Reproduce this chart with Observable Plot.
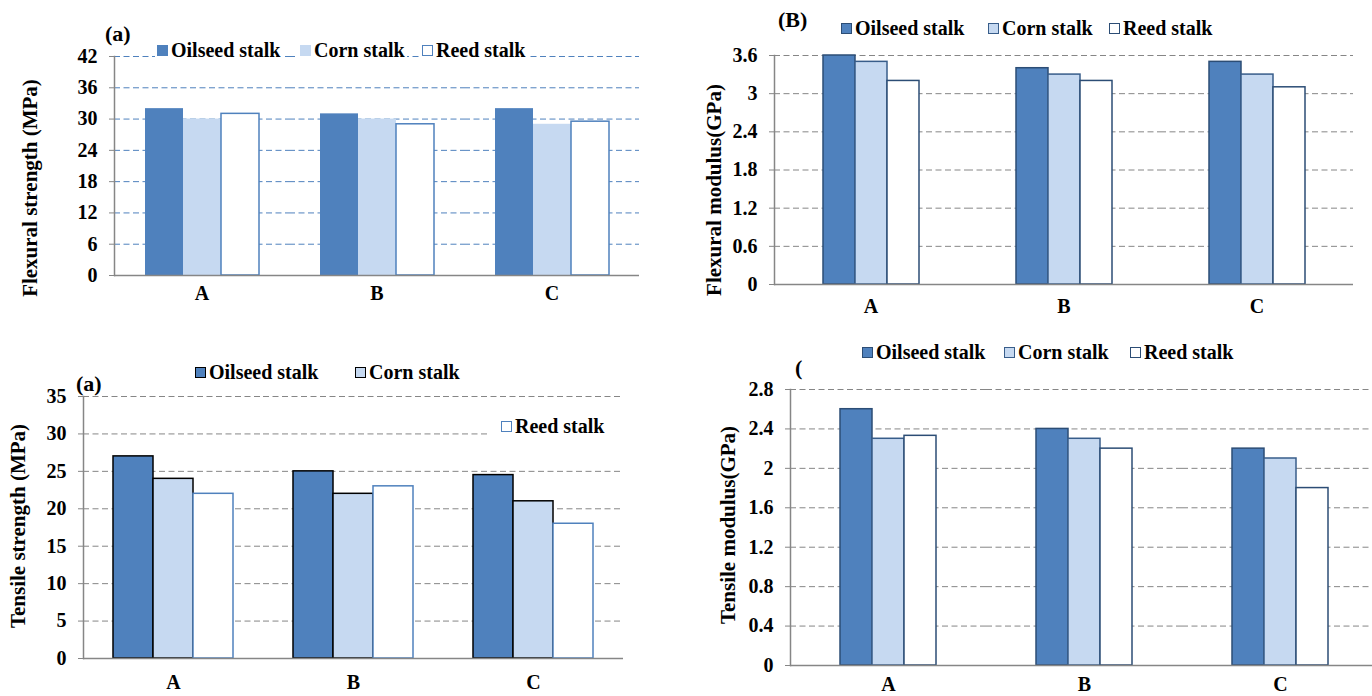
<!DOCTYPE html>
<html><head><meta charset="utf-8">
<script src="https://cdn.jsdelivr.net/npm/d3@7"></script>
<script src="https://cdn.jsdelivr.net/npm/@observablehq/plot@0.6"></script>
<style>
html,body{margin:0;padding:0;background:#fff;overflow:hidden;}
#root{position:relative;width:1372px;height:696px;overflow:hidden;background:#fff;font-family:"Liberation Serif","Times New Roman",serif;font-weight:bold;color:#000;}
.panel{position:absolute;}
.panel svg{max-width:none !important;}
.ytitle{position:absolute;white-space:nowrap;font-size:21px;line-height:22px;transform:translate(-50%,-50%) rotate(-90deg);}
.plabel{position:absolute;font-size:22px;line-height:24px;transform:translateY(-50%);}
.leg{position:absolute;font-size:20px;line-height:22px;white-space:nowrap;display:flex;align-items:center;transform:translateY(-50%);}
.sw{display:inline-block;width:11px;height:11px;margin-right:3px;box-sizing:border-box;}
</style></head><body><div id="root"></div>
<script>
// ---- data ----
const categories = ["A", "B", "C"];
const seriesNames = ["Oilseed stalk", "Corn stalk", "Reed stalk"];

const flexStrengthOilseed = [32, 31, 32];
const flexStrengthCorn = [30, 30, 29];
const flexStrengthReed = [31, 29, 29.5];
const flexStrengthTicks = [0, 6, 12, 18, 24, 30, 36, 42];

const flexModulusOilseed = [3.6, 3.4, 3.5];
const flexModulusCorn = [3.5, 3.3, 3.3];
const flexModulusReed = [3.2, 3.2, 3.1];
const flexModulusTicks = [0, 0.6, 1.2, 1.8, 2.4, 3, 3.6];

const tensStrengthOilseed = [27, 25, 24.5];
const tensStrengthCorn = [24, 22, 21];
const tensStrengthReed = [22, 23, 18];
const tensStrengthTicks = [0, 5, 10, 15, 20, 25, 30, 35];

const tensModulusOilseed = [2.6, 2.4, 2.2];
const tensModulusCorn = [2.3, 2.3, 2.1];
const tensModulusReed = [2.33, 2.2, 1.8];
const tensModulusTicks = [0, 0.4, 0.8, 1.2, 1.6, 2, 2.4, 2.8];

const OIL = "#4f81bd", CORN = "#c6d9f1", REED = "#ffffff";
const AXIS = "#868686";

function toRows(arrays) {
  const rows = [];
  categories.forEach((c, i) => arrays.forEach((arr, s) => rows.push({cat: c, series: seriesNames[s], value: arr[i]})));
  return rows;
}

const root = document.getElementById("root");

function panel(cfg) {
  const rows = toRows(cfg.values);
  const marks = [
    Plot.gridY({ticks: cfg.ticks.slice(1), stroke: cfg.gridColor, strokeOpacity: 1, strokeWidth: 1, strokeDasharray: "6,3.5"}),
    ...cfg.styles.map((st, s) => Plot.barY(rows.filter(d => d.series === seriesNames[s]), {
      fx: "cat", x: "series", y: "value", fill: st.fill, stroke: st.stroke || "none", strokeWidth: 1.5
    })),
    Plot.ruleY([0], {stroke: AXIS, strokeWidth: 1.5}),
    Plot.frame({anchor: "left", facet: "super", stroke: AXIS, strokeWidth: 1.5}),
    Plot.axisY({ticks: cfg.ticks, tickSize: 5, tickPadding: 12, stroke: AXIS, fill: "#000", label: null, tickFormat: d => String(d)}),
    Plot.axisFx({anchor: "bottom", tickSize: 0, tickPadding: cfg.fxPad, label: null})
  ];
  const chart = Plot.plot({
    width: cfg.width, height: cfg.height,
    marginLeft: cfg.ml, marginRight: cfg.mr, marginTop: cfg.mt, marginBottom: cfg.mb,
    style: {fontFamily: "'Liberation Serif','Times New Roman',serif", fontSize: "20px", fontWeight: "bold", color: "#000", background: "transparent", overflow: "visible", maxWidth: "none"},
    fx: {domain: categories, padding: 0, label: null},
    x: {domain: seriesNames, paddingInner: 0, paddingOuter: cfg.po, axis: null, label: null},
    y: {domain: [0, cfg.ticks[cfg.ticks.length - 1]], label: null},
    marks
  });
  chart.style.maxWidth = "none";
  const wrap = document.createElement("div");
  wrap.className = "panel";
  wrap.style.left = cfg.left + "px";
  wrap.style.top = cfg.top + "px";
  wrap.style.width = cfg.width + "px";
  wrap.style.height = cfg.height + "px";
  wrap.appendChild(chart);
  root.appendChild(wrap);

  // y title
  const t = document.createElement("div");
  t.className = "ytitle";
  t.textContent = cfg.ytitle;
  t.style.left = cfg.ytx + "px";
  t.style.top = cfg.yty + "px";
  root.appendChild(t);

  // panel label
  const p = document.createElement("div");
  p.className = "plabel";
  p.textContent = cfg.plabel;
  p.style.left = cfg.plx + "px";
  p.style.top = cfg.ply + "px";
  root.appendChild(p);

  // legend
  cfg.legend.forEach((pos, s) => {
    const it = document.createElement("div");
    it.className = "leg";
    it.style.left = pos.x + "px";
    it.style.top = pos.y + "px";
    if (pos.bg) { it.style.background = "#fff"; it.style.padding = pos.bg; }
    const sw = document.createElement("span");
    sw.className = "sw";
    const st = cfg.styles[s];
    sw.style.background = st.fill;
    if (st.stroke) sw.style.border = "1.5px solid " + st.stroke;
    it.appendChild(sw);
    const tx = document.createElement("span");
    tx.textContent = seriesNames[s];
    it.appendChild(tx);
    root.appendChild(it);
  });
}

// (a) Flexural strength
panel({
  values: [flexStrengthOilseed, flexStrengthCorn, flexStrengthReed], ticks: flexStrengthTicks,
  left: 0, top: 40, width: 660, height: 270, ml: 113, mr: 20, mt: 16, mb: 35, po: 0.773, fxPad: 10,
  gridColor: OIL,
  styles: [{fill: OIL}, {fill: CORN}, {fill: REED, stroke: OIL}],
  ytitle: "Flexural strength (MPa)", ytx: 30, yty: 188,
  plabel: "(a)", plx: 105, ply: 34,
  legend: [{x: 155, y: 50, bg: "0 2px"}, {x: 298, y: 50, bg: "0 2px"}, {x: 420, y: 50, bg: "0 2px"}]
});

// (B) Flexural modulus
panel({
  values: [flexModulusOilseed, flexModulusCorn, flexModulusReed], ticks: flexModulusTicks,
  left: 690, top: 40, width: 680, height: 280, ml: 83, mr: 17, mt: 15, mb: 36, po: 1.5, fxPad: 14,
  gridColor: AXIS,
  styles: [{fill: OIL, stroke: "#2c4d75"}, {fill: CORN, stroke: "#385d8a"}, {fill: REED, stroke: "#2c4d75"}],
  ytitle: "Flexural modulus(GPa)", ytx: 714, yty: 190,
  plabel: "(B)", plx: 778, ply: 20,
  legend: [{x: 841, y: 28}, {x: 988, y: 28}, {x: 1109, y: 28}]
});

// Tensile strength
panel({
  values: [tensStrengthOilseed, tensStrengthCorn, tensStrengthReed], ticks: tensStrengthTicks,
  left: 0, top: 380, width: 660, height: 310, ml: 83, mr: 37, mt: 16, mb: 32, po: 0.75, fxPad: 16,
  gridColor: AXIS,
  styles: [{fill: OIL, stroke: "#000"}, {fill: CORN, stroke: "#000"}, {fill: REED, stroke: OIL}],
  ytitle: "Tensile strength (MPa)", ytx: 18, yty: 526,
  plabel: "(a)", plx: 76, ply: 384,
  legend: [{x: 195, y: 372}, {x: 355, y: 372}, {x: 490, y: 426, bg: "4px 24px 4px 11px"}]
});

// Tensile modulus
panel({
  values: [tensModulusOilseed, tensModulusCorn, tensModulusReed], ticks: tensModulusTicks,
  left: 700, top: 370, width: 688, height: 326, ml: 90, mr: 10, mt: 19, mb: 31, po: 1.47, fxPad: 11,
  gridColor: AXIS,
  styles: [{fill: OIL, stroke: "#2c4d75"}, {fill: CORN, stroke: "#385d8a"}, {fill: REED, stroke: "#2c4d75"}],
  ytitle: "Tensile modulus(GPa)", ytx: 728, yty: 525,
  plabel: "(", plx: 795, ply: 368,
  legend: [{x: 862, y: 352}, {x: 1004, y: 352}, {x: 1130, y: 352}]
});
</script></body></html>
